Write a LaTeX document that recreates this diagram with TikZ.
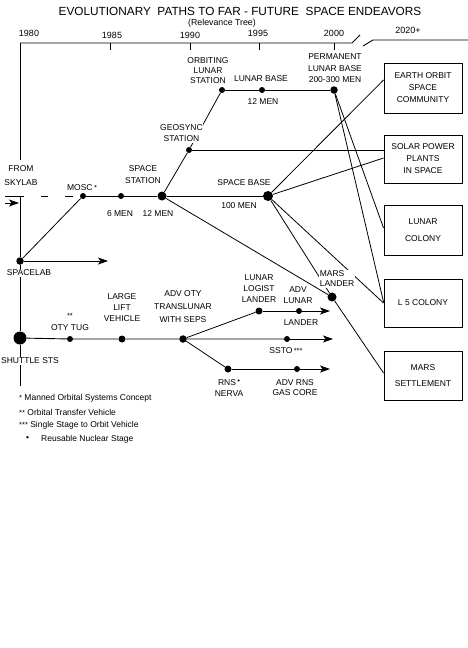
\documentclass[tikz,border=0pt]{standalone}
\usepackage{fontspec}
\setmainfont{Liberation Sans}
\usetikzlibrary{arrows.meta,calc}
\newcommand{\smstar}[1]{{\fontsize{7.5}{7.5}\selectfont #1}}
\begin{document}
\begin{tikzpicture}[x=1pt,y=-1pt,
  lbl/.style={font=\fontsize{8.5}{11}\selectfont, align=center, inner sep=0.6pt, fill=white},
  yr/.style={font=\fontsize{9}{11}\selectfont, inner sep=0pt},
  leg/.style={font=\fontsize{8.5}{11}\selectfont, anchor=west, inner sep=0pt},
  dotn/.style={circle, fill=black, inner sep=0pt, minimum size=#1},
  ln/.style={line width=0.9pt},
  wire/.style={line width=0.8pt},
  arr/.style={-{Stealth[length=10pt,width=7pt,inset=2.5pt]}},
  boxn/.style={draw, line width=0.9pt, minimum width=78pt, minimum height=#1, align=center, font=\fontsize{8.5}{12}\selectfont, inner sep=0pt, fill=white},
]
\useasboundingbox[fill=white] (0,0) rectangle (468,648);

% title
\node[inner sep=0pt, font=\fontsize{11.8}{14}\selectfont] (title) at (240,11.5) {EVOLUTIONARY\ \ PATHS TO FAR - FUTURE\ \ SPACE ENDEAVORS};
\node[inner sep=0pt, font=\fontsize{8.8}{11}\selectfont] (subtitle) at (222,23.5) {(Relevance Tree)};

% timeline
\coordinate (t0) at (20,43);
\coordinate (t1) at (352,43);
\coordinate (s1) at (360,35);
\coordinate (s2a) at (363,46);
\coordinate (s2b) at (373,40);
\coordinate (t2) at (468,40);
\draw[ln] (t0) -- (t1) -- (s1);
\draw[ln] (s2a) -- (s2b) -- (t2);
\foreach \x in {110,190,259,334} \draw[ln] (\x,43) -- (\x,50);
\node[yr] (y1980) at (29,33) {1980};
\node[yr] (y1985) at (112,35) {1985};
\node[yr] (y1990) at (190,35) {1990};
\node[yr] (y1995) at (258,33) {1995};
\node[yr] (y2000) at (334,33) {2000};
\node[yr] (y2020) at (408,30) {2020+};

% boxes
\node[boxn=50pt] (earth) at (423,88) {EARTH ORBIT\\SPACE\\COMMUNITY};
\node[boxn=48pt] (solar) at (423,159) {SOLAR POWER\\PLANTS\\IN SPACE};
\node[boxn=50pt, font=\fontsize{8.5}{17}\selectfont] (lcol) at (423,230) {LUNAR\\COLONY};
\node[boxn=48pt] (lfive) at (423,303) {L 5 COLONY};
\node[boxn=49pt, font=\fontsize{8.5}{16}\selectfont] (mset) at (423,375.5) {MARS\\SETTLEMENT};

% dots
\node[dotn=6pt] (mosc) at (83,196) {};
\node[dotn=6pt] (six) at (121,196) {};
\node[dotn=9pt] (ss) at (162,196) {};
\node[dotn=6pt] (geo) at (189,150) {};
\node[dotn=6pt] (ols) at (222,90) {};
\node[dotn=6pt] (lb) at (262,90) {};
\node[dotn=7.5pt] (plb) at (334,90) {};
\node[dotn=10pt] (sb) at (268,196) {};
\node[dotn=7.5pt] (slab) at (20,261) {};
\node[dotn=13pt] (sts) at (20,338) {};
\node[dotn=6pt] (tug) at (70,339) {};
\node[dotn=7pt] (llv) at (122,339) {};
\node[dotn=7.5pt] (adv) at (183,339) {};
\node[dotn=7pt] (rns) at (228,369) {};
\node[dotn=7pt] (llog) at (259,311) {};
\node[dotn=6pt] (advl) at (299,311) {};
\node[dotn=6pt] (ssto) at (287,339) {};
\node[dotn=6pt] (advr) at (297,369) {};
\node[dotn=9pt] (ml) at (332,297) {};

% free ends
\coordinate (v0) at (20,160);
\coordinate (skyjoin) at (20,197);
\coordinate (vend) at (20,386);
\coordinate (dashstart) at (5,196);
\coordinate (skyarrA) at (5,203);
\coordinate (skyarrB) at (19,203);
\coordinate (slabtip) at (108,261);
\coordinate (advltip) at (330,311);
\coordinate (sstotip) at (333,339);
\coordinate (advrtip) at (330,369);

% connectors
\draw[ln] (t0) -- (v0);
\draw[ln] (skyjoin) -- (slab) -- (sts) -- (vend);
\draw[ln, dash pattern=on 19pt off 17pt on 7pt off 17pt on 8pt off 30pt] (dashstart) -- (mosc);
\draw[ln, arr] (skyarrA) -- (skyarrB);
\draw[ln] (mosc) -- (six) -- (ss) -- (sb);
\draw[wire] (slab) -- (mosc);
\draw[ln, arr] (slab) -- (slabtip);
\draw[wire] (ss) -- (geo);
\draw[wire] (geo) -- (ols);
\draw[ln] (ols) -- (lb) -- (plb);
\draw[ln] (geo) -- ([yshift=9pt]solar.west);
\draw[wire] (sb) -- ([yshift=8pt]earth.west);
\draw[wire] (sb) -- ([yshift=1pt]solar.west);
\draw[wire] (sb) -- (lfive.west);
\draw[wire] (sb) -- (ml);
\draw[wire] (ss) -- (ml);
\draw[wire] (plb) -- ([yshift=2pt]lcol.west);
\draw[wire] (plb) -- ([yshift=1pt]lfive.west);
\draw[wire] (ml) -- ([yshift=2.5pt]mset.west);
\draw[ln] (sts) -- (tug) -- (llv) -- (adv) -- (ssto);
\draw[ln, arr] (ssto) -- (sstotip);
\draw[wire] (adv) -- (llog);
\draw[ln] (llog) -- (advl);
\draw[ln, arr] (advl) -- (advltip);
\draw[wire] (adv) -- (rns);
\draw[ln] (rns) -- (advr);
\draw[ln, arr] (advr) -- (advrtip);

% labels
\node[lbl, font=\fontsize{8.5}{14}\selectfont] (lfrom) at (21,176) {FROM\\SKYLAB};
\node[lbl] (lmosc) at (82,188) {MOSC\,\smstar{*}};
\node[lbl] (lsix) at (120,214) {6 MEN};
\node[lbl] (ltwelve) at (158,214) {12 MEN};
\node[lbl, font=\fontsize{8.5}{12}\selectfont] (lss) at (143,175) {SPACE\\STATION};
\node[lbl] (lgeo) at (181.5,133.5) {GEOSYNC\\STATION};
\node[lbl, font=\fontsize{8.5}{10}\selectfont] (lols) at (208,71) {ORBITING\\LUNAR\\STATION};
\node[lbl] (llb) at (261,79) {LUNAR BASE};
\node[lbl] (llbmen) at (263,102) {12 MEN};
\node[lbl, font=\fontsize{8.5}{11.5}\selectfont] (lplb) at (335,68.5) {PERMANENT\\LUNAR BASE\\200-300 MEN};
\node[lbl] (lsb) at (244,183) {SPACE BASE};
\node[lbl] (lsbmen) at (239,206) {100 MEN};
\node[lbl] (lslab) at (29,273) {SPACELAB};
\node[lbl] (lsts) at (30,361) {SHUTTLE STS};
\node[lbl, font=\fontsize{8.5}{12}\selectfont] (ltug) at (70,322) {\smstar{**}\\OTY TUG};
\node[lbl] (lllv) at (122,308) {LARGE\\LIFT\\VEHICLE};
\node[lbl, font=\fontsize{8.5}{13}\selectfont] (ladv) at (183,307) {ADV OTY\\TRANSLUNAR\\WITH SEPS};
\node[lbl] (lllog) at (259,289) {LUNAR\\LOGIST\\LANDER};
\node[lbl] (ladvl) at (298,295.5) {ADV\\LUNAR};
\node[lbl] (ladvl2) at (301,323) {LANDER};
\node[lbl, font=\fontsize{8.5}{10}\selectfont, align=left, anchor=west] (lml) at (319,279) {MARS\\LANDER};
\node[lbl] (lssto) at (286,351) {SSTO\,\smstar{***}};
\node[lbl] (lrns) at (229,388.5) {RNS\,\raisebox{2pt}{\smstar{•}}\\NERVA};
\node[lbl, font=\fontsize{8.5}{10}\selectfont] (ladvr) at (295,388) {ADV RNS\\GAS CORE};

% legend
\node[leg] (leg1) at (19,398) {\smstar{*} Manned Orbital Systems Concept};
\node[leg] (leg2) at (19,412) {\smstar{**} Orbital Transfer Vehicle};
\node[leg] (leg3) at (19,425) {\smstar{***} Single Stage to Orbit Vehicle};
\node[leg] (leg4) at (26,439) {\raisebox{1.5pt}{•}};
\node[leg] (leg5) at (41,439) {Reusable Nuclear Stage};
\end{tikzpicture}
\end{document}
